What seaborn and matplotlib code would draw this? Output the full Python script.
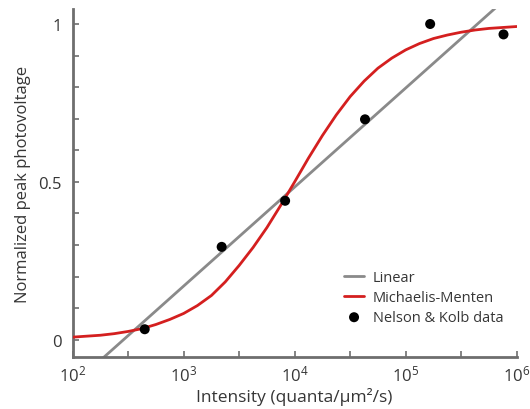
import numpy as np
import pandas as pd
import matplotlib
matplotlib.use("Agg")
import matplotlib.pyplot as plt
import seaborn as sns
from matplotlib.ticker import FixedLocator, NullFormatter

# ---- data ----
data_intensity = [446, 2200, 8200, 43000, 166000, 760000]
data_response = [0.033, 0.294, 0.440, 0.698, 1.000, 0.967]

linear_intensity = [1e2, 1e6]
linear_response = [-0.144, 1.111]

mm_intensity = [1.00e2, 1.33e2, 1.78e2, 2.37e2, 3.16e2, 4.22e2, 5.62e2, 7.50e2,
                1.00e3, 1.33e3, 1.78e3, 2.37e3, 3.16e3, 4.22e3, 5.62e3, 7.50e3,
                1.00e4, 1.33e4, 1.78e4, 2.37e4, 3.16e4, 4.22e4, 5.62e4, 7.50e4,
                1.00e5, 1.33e5, 1.78e5, 2.37e5, 3.16e5, 4.22e5, 5.62e5, 7.50e5,
                1.00e6]
mm_response = [0.008, 0.011, 0.014, 0.019, 0.026, 0.035, 0.048, 0.064,
               0.083, 0.108, 0.140, 0.183, 0.235, 0.292, 0.355, 0.426,
               0.500, 0.575, 0.647, 0.712, 0.770, 0.819, 0.860, 0.892,
               0.918, 0.938, 0.954, 0.965, 0.974, 0.981, 0.986, 0.989,
               0.992]

x_tick_values = [1e2, 1e3, 1e4, 1e5, 1e6]
y_tick_values = [0, 0.5, 1]
y_tick_labels = ["0", "0.5", "1"]

# ---- style ----
sns.set_style("ticks")
plt.rcParams["font.family"] = ["Open Sans", "DejaVu Sans"]
plt.rcParams["mathtext.fontset"] = "custom"
plt.rcParams["mathtext.rm"] = "Open Sans"
plt.rcParams["mathtext.it"] = "Open Sans:italic"
plt.rcParams["mathtext.bf"] = "Open Sans:bold"

text_color = "#363636"
spine_color = "#6e6e6e"

fig = plt.figure(figsize=(5.3, 4.1), dpi=100)
ax = fig.add_axes([0.137, 0.126, 0.838, 0.850])

lin_df = pd.DataFrame({"x": linear_intensity, "y": linear_response})
mm_df = pd.DataFrame({"x": mm_intensity, "y": mm_response})
pt_df = pd.DataFrame({"x": data_intensity, "y": data_response})

sns.lineplot(data=lin_df, x="x", y="y", ax=ax, color="#8a8a8a", lw=2.0,
             label="Linear", zorder=2)
sns.lineplot(data=mm_df, x="x", y="y", ax=ax, color="#d41f1f", lw=2.0,
             label="Michaelis-Menten", zorder=3)
sns.scatterplot(data=pt_df, x="x", y="y", ax=ax, color="black", s=52,
                edgecolor="none", label="Nelson & Kolb data", zorder=4)

ax.set_xscale("log")
ax.set_xlim(1e2, 1e6)
ax.set_ylim(-0.056, 1.048)

ax.xaxis.set_major_locator(FixedLocator(x_tick_values))
ax.xaxis.set_minor_locator(FixedLocator([10 ** 2.5, 10 ** 3.5, 10 ** 4.5, 10 ** 5.5]))
ax.xaxis.set_minor_formatter(NullFormatter())
ax.yaxis.set_major_locator(FixedLocator(y_tick_values))
ax.set_yticklabels(y_tick_labels)
ax.yaxis.set_minor_locator(FixedLocator([0.1, 0.2, 0.3, 0.4, 0.6, 0.7, 0.8, 0.9]))

ax.tick_params(which="both", direction="in", length=4, width=1.2,
               color=spine_color, labelsize=12, labelcolor=text_color)
ax.tick_params(axis="y", pad=8)
ax.tick_params(axis="x", pad=5)

for side in ["top", "right"]:
    ax.spines[side].set_visible(False)
for side in ["left", "bottom"]:
    ax.spines[side].set_color(spine_color)
    ax.spines[side].set_linewidth(2.0)

ax.set_xlabel("Intensity (quanta/μm²/s)", fontsize=12.5, color=text_color, labelpad=2)
ax.set_ylabel("Normalized peak photovoltage", fontsize=12, color=text_color, labelpad=5)

leg = ax.legend(loc="lower right", bbox_to_anchor=(1.0, 0.055), frameon=False,
                fontsize=10.5, handlelength=1.4, handletextpad=0.6,
                labelspacing=0.35, labelcolor=text_color)

fig.savefig("out.png", dpi=100)
